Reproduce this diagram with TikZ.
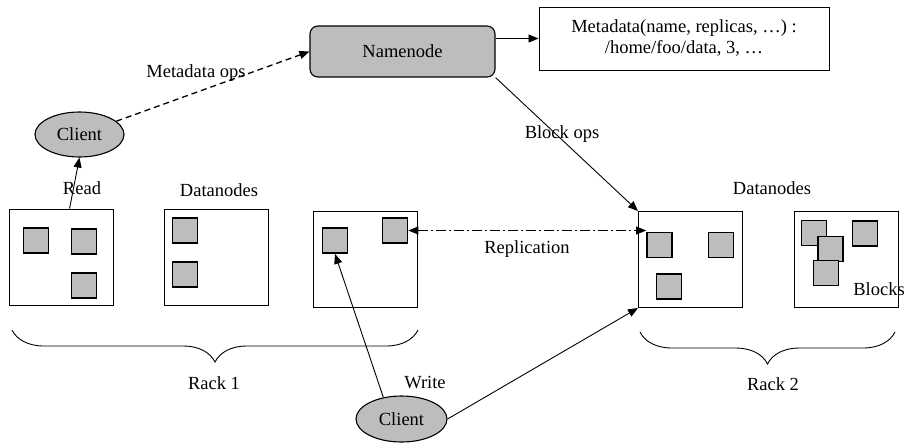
\documentclass[tikz,border=0pt]{standalone}
\usepackage{fontspec}
\setmainfont{Liberation Serif}
\usetikzlibrary{arrows.meta,
                shapes.geometric,
                decorations.pathreplacing}

\begin{document}
\begin{tikzpicture}[x=1pt, y=-1pt, font=\fontsize{18.5}{21}\selectfont,
        grain/.style={fill=black!26},
        dnode/.style={draw, line width=1pt, minimum width=104pt, minimum height=96pt, inner sep=0pt},
        blk/.style={draw, grain, line width=1.7pt, minimum size=25pt, inner sep=0pt},
        client/.style={draw, grain, ellipse, line width=1.1pt, inner sep=0pt},
        arr/.style={-{Triangle[length=10pt, width=8pt]}, line width=0.9pt},
        rack/.style={decorate, decoration={brace, amplitude=32pt}, line width=0.9pt}]
    \useasboundingbox (0,0) rectangle (904,445);

    % namenode and its metadata
    \node [draw, grain, rounded corners=8pt, line width=1.1pt, minimum width=185pt, minimum height=51pt] (namenode) at (402.5,51.5) {Namenode};
    \node [draw, line width=1pt, minimum width=290pt, minimum height=63pt, align=center] (meta) at (684,38.5) {Metadata(name, replicas, \dots) :\\/home/foo/data, 3, \dots};

    % clients
    \node [client, minimum width=89pt, minimum height=45pt] (client1) at (79.5,134.5) {Client};
    \node [client, minimum width=91pt, minimum height=46pt] (client2) at (401.5,419) {Client};

    % datanodes
    \node [dnode] (dn1) at (61,257) {};
    \node [dnode] (dn2) at (216.5,257.5) {};
    \node [dnode] (dn3) at (365,259) {};
    \node [dnode] (dn4) at (690.5,259.5) {};
    \node [dnode] (dn5) at (846,259.5) {};

    % blocks
    \foreach \n/\p in {a/{36,240.5}, b/{84,241.5}, c/{84,285.5}, d/{185,230.5}, e/{185,274.5},
                      f/{335,240.5}, g/{395,230.5}, h/{659.5,245}, i/{721,245}, j/{669,286.5},
                      k/{814,233}, m/{830.5,249}, n/{826,273}, l/{865,233.5}}
        \node [blk] (blk\n) at (\p) {};

    % labels
    \node (read) at (82,188) {Read};
    \node (dnlabel1) at (219,190) {Datanodes};
    \node (dnlabel2) at (772,188) {Datanodes};
    \node (mdops) at (196,73) {Metadata ops};
    \node (blkops) at (562,134) {Block ops};
    \node (repl) at (527,249) {Replication};
    \node (blocks) at (879,289) {Blocks};
    \node (rack1) at (214,383) {Rack 1};
    \node (rack2) at (773,384) {Rack 2};
    \node (write) at (425,383) {Write};

    % connectors
    \draw [arr, dash pattern=on 6pt off 4pt, line width=1.3pt] (client1) -- (namenode.west);
    \draw [arr] (namenode.east |- meta.west) -- (meta.west);
    \draw [arr] (namenode.south east) -- (dn4.north west);
    \draw [arr] (dn1.80) -- (client1.south);
    \draw [arr] (client2.130) -- (blkf.south);
    \draw [arr] (client2.east) -- (dn4.south west);
    \draw [{Triangle[length=10pt, width=8pt]}-{Triangle[length=10pt, width=8pt]}, line width=0.9pt,
           dash pattern=on 10pt off 3pt on 2pt off 3pt] (blkg.east) -- (blkg.east -| blkh.west);

    % racks
    \draw [rack] (418,330) -- (12,330);
    \draw [rack] (895,332) -- (640,332);
\end{tikzpicture}
\end{document}
